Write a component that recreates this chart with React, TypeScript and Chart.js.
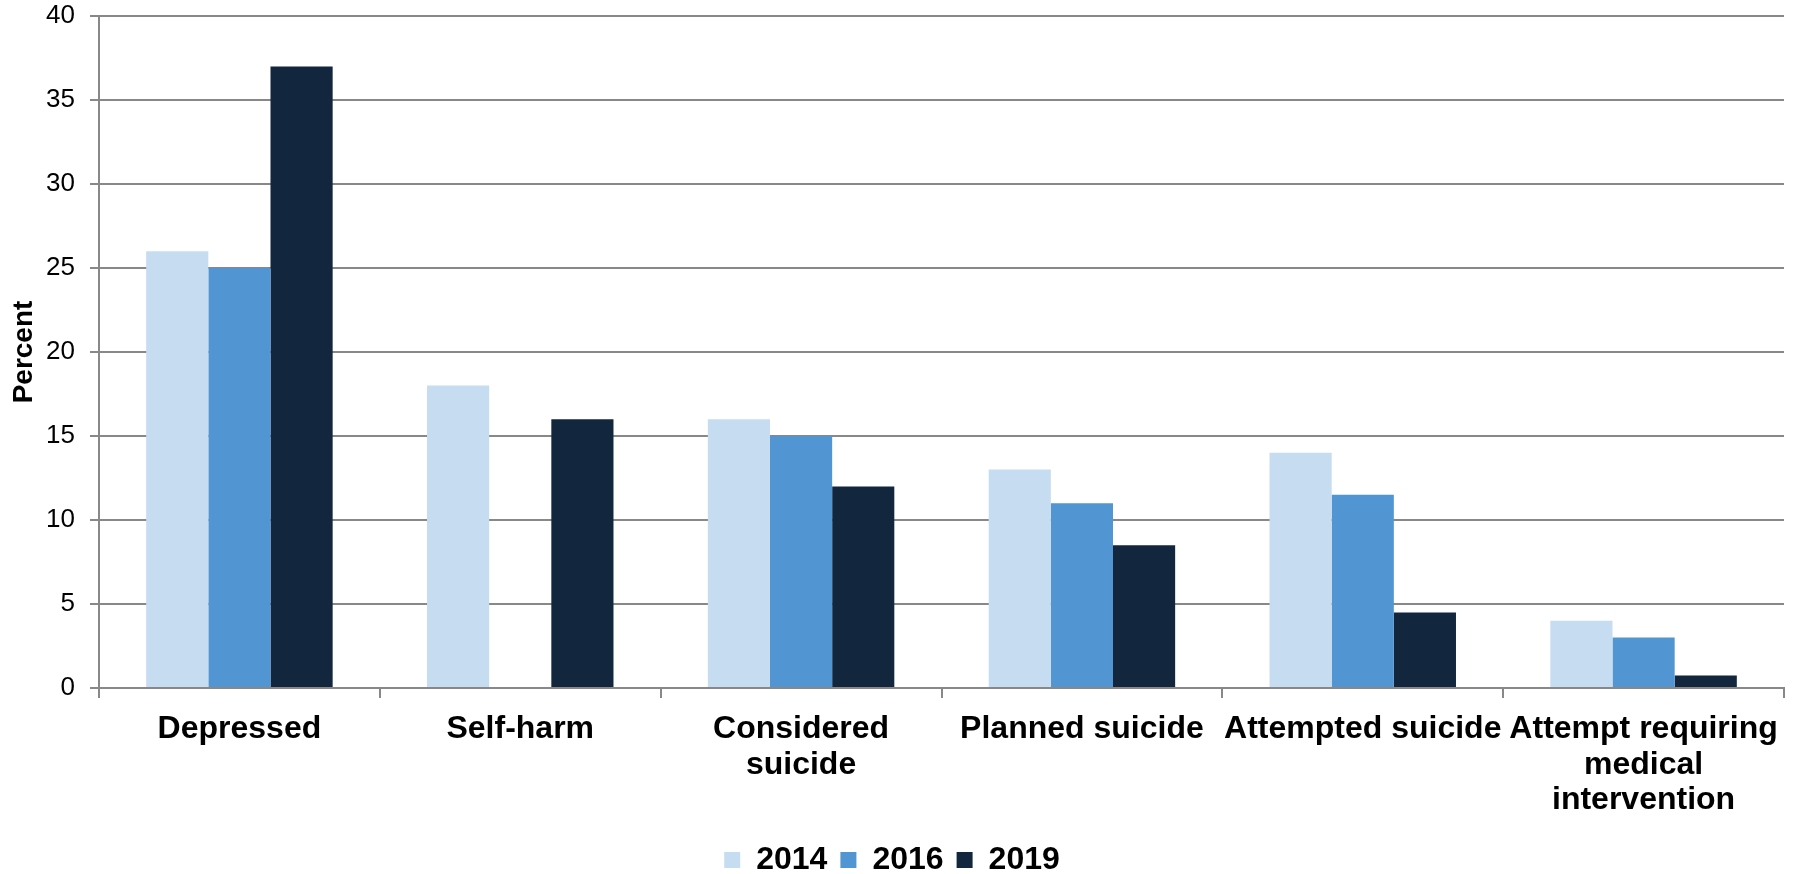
import React, { useEffect, useRef } from "react";
import { Chart, registerables } from "chart.js";

Chart.register(...registerables);

const categories: (string | string[])[] = [
  "Depressed",
  "Self-harm",
  ["Considered", "suicide"],
  "Planned suicide",
  "Attempted suicide",
  ["Attempt requiring", "medical", "intervention"],
];
const seriesLabels = ["2014", "2016", "2019"];
const values2014 = [26, 18, 16, 13, 14, 4];
const values2016: (number | null)[] = [25, null, 15, 11, 11.5, 3];
const values2019 = [37, 16, 12, 8.5, 4.5, 0.75];
const colors = ["#C6DCF0", "#5195D3", "#12263E"];
const yTicks = { min: 0, max: 40, step: 5 };
const yTitle = "Percent";

const FONT = "'Liberation Sans', Arial, Helvetica, sans-serif";

export default function App() {
  const ref = useRef<HTMLCanvasElement | null>(null);

  useEffect(() => {
    document.body.style.margin = "0";
    const canvas = ref.current;
    if (!canvas) return;
    const seriesData = [values2014, values2016, values2019];
    const chart = new Chart(canvas, {
      type: "bar",
      data: {
        labels: categories,
        datasets: seriesLabels.map((label, i) => ({
          label,
          data: seriesData[i],
          backgroundColor: colors[i],
          borderWidth: 0,
          categoryPercentage: 0.664,
          barPercentage: 1,
        })),
      },
      options: {
        responsive: false,
        animation: false,
        devicePixelRatio: 1,
        layout: { padding: { top: 16, right: 14, left: 0, bottom: -12 } },
        plugins: {
          tooltip: { enabled: false },
          legend: {
            position: "bottom",
            labels: {
              boxWidth: 16,
              boxHeight: 16,
              padding: 13,
              color: "#000",
              font: { family: FONT, size: 32, weight: "bold" },
            },
          },
        },
        scales: {
          x: {
            grid: {
              offset: true,
              drawOnChartArea: false,
              drawTicks: true,
              tickLength: 10,
              color: "#888888",
              lineWidth: 2,
            },
            border: { color: "#888888", width: 2 },
            ticks: {
              maxRotation: 0,
              minRotation: 0,
              autoSkip: false,
              padding: 13,
              color: "#000",
              font: { family: FONT, size: 32, weight: "bold", lineHeight: 1.12 },
            },
            afterFit: (scale: any) => {
              scale.height = 143;
            },
          },
          y: {
            min: yTicks.min,
            max: yTicks.max,
            ticks: {
              stepSize: yTicks.step,
              padding: 15,
              color: "#000",
              font: { family: FONT, size: 26 },
            },
            grid: {
              color: "#888888",
              lineWidth: 2,
              tickLength: 9,
              drawTicks: true,
            },
            border: { color: "#888888", width: 2 },
            title: {
              display: true,
              text: yTitle,
              color: "#000",
              padding: { top: 7, bottom: 0 },
              font: { family: FONT, size: 28, weight: "bold" },
            },
            afterFit: (scale: any) => {
              scale.width = 99;
              scale.paddingTop = 0;
              scale.paddingBottom = 0;
            },
          },
        },
      },
    });
    return () => chart.destroy();
  }, []);

  return (
    <div style={{ width: 1798, height: 874 }}>
      <canvas ref={ref} width={1798} height={874} />
    </div>
  );
}
